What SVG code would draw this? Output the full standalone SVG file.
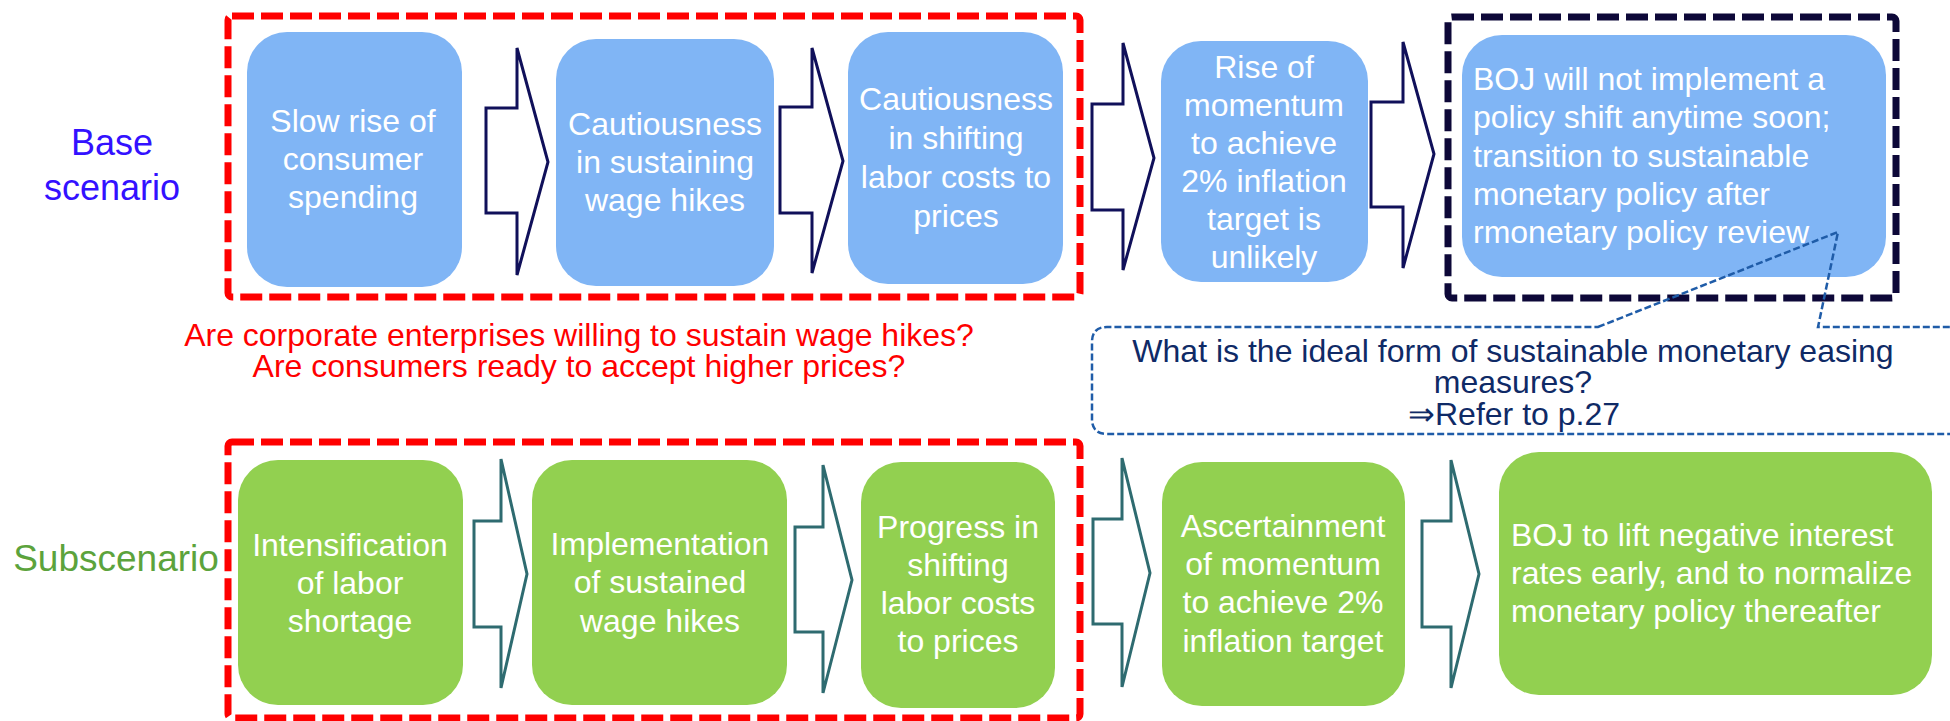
<svg xmlns="http://www.w3.org/2000/svg" width="1950" height="721" viewBox="0 0 1950 721">
<style>
.bn{fill:#80B5F5}
.gn{fill:#92D050}
.nt{font-family:"Liberation Sans",Arial,sans-serif;font-size:32px;fill:#FFFFFF;text-anchor:middle}
.lt{font-family:"Liberation Sans",Arial,sans-serif;font-size:32px;fill:#FFFFFF}
.arN{fill:#FFFFFF;stroke:#10105A;stroke-width:3;stroke-linejoin:miter}
.arT{fill:#FFFFFF;stroke:#2E6B70;stroke-width:3;stroke-linejoin:miter}
.red{fill:none;stroke:#FF0000;stroke-width:7;stroke-dasharray:22 7}
.navy{fill:none;stroke:#0D0838;stroke-width:7;stroke-dasharray:22 7}
.call{fill:none;stroke:#1F5CA8;stroke-width:2.5;stroke-dasharray:7 3}
.q{font-family:"Liberation Sans",Arial,sans-serif;font-size:32px;fill:#FF0000;text-anchor:middle}
.ct{font-family:"Liberation Sans",Arial,sans-serif;font-size:32px;fill:#0F2A66;text-anchor:middle}
</style>
<g id="labels">
<text font-family="Liberation Sans, Arial, sans-serif" font-size="36" fill="#3311FF" text-anchor="middle"><tspan x="112" y="155">Base</tspan><tspan x="112" y="200">scenario</tspan></text>
<text x="116" y="571" font-family="Liberation Sans, Arial, sans-serif" font-size="37" fill="#5CA33C" text-anchor="middle">Subscenario</text>
</g>
<g id="frames">
<rect class="red" x="228" y="16" width="852" height="281" rx="4"/>
<rect class="red" x="228" y="442" width="852" height="276" rx="4"/>
<rect class="navy" x="1448" y="17" width="448" height="281" rx="4"/>
</g>
<g id="connectors">
<path class="arN" d="M486,108 L517,108 L517,48 L548,162 L517,275 L517,213 L486,213 Z"/>
<path class="arN" d="M780,107 L812,107 L812,48 L843,161 L812,273 L812,213 L780,213 Z"/>
<path class="arN" d="M1092,104 L1123,104 L1123,43 L1154,158 L1123,270 L1123,210 L1092,210 Z"/>
<path class="arN" d="M1371,102 L1403,102 L1403,42 L1434,154 L1403,268 L1403,207 L1371,207 Z"/>
<path class="arT" d="M474,521 L501,521 L501,459 L527,574 L501,688 L501,627 L474,627 Z"/>
<path class="arT" d="M795,527 L823,527 L823,465 L852,580 L823,693 L823,632 L795,632 Z"/>
<path class="arT" d="M1093,519 L1122,519 L1122,458 L1150,573 L1122,687 L1122,624 L1093,624 Z"/>
<path class="arT" d="M1422,521 L1451,521 L1451,460 L1479,574 L1451,688 L1451,627 L1422,627 Z"/>
</g>
<g id="n1"><rect class="bn" x="247" y="32" width="215" height="255" rx="40"/>
<text class="nt"><tspan x="353" y="132">Slow rise of</tspan><tspan x="353" y="170">consumer</tspan><tspan x="353" y="208">spending</tspan></text></g>
<g id="n2"><rect class="bn" x="556" y="39" width="218" height="247" rx="40"/>
<text class="nt"><tspan x="665" y="135">Cautiousness</tspan><tspan x="665" y="173">in sustaining</tspan><tspan x="665" y="211">wage hikes</tspan></text></g>
<g id="n3"><rect class="bn" x="848" y="32" width="215" height="252" rx="40"/>
<text class="nt"><tspan x="956" y="110">Cautiousness</tspan><tspan x="956" y="149">in shifting</tspan><tspan x="956" y="188">labor costs to</tspan><tspan x="956" y="227">prices</tspan></text></g>
<g id="n4"><rect class="bn" x="1161" y="41" width="207" height="241" rx="40"/>
<text class="nt"><tspan x="1264" y="78">Rise of</tspan><tspan x="1264" y="116">momentum</tspan><tspan x="1264" y="154">to achieve</tspan><tspan x="1264" y="192">2% inflation</tspan><tspan x="1264" y="230">target is</tspan><tspan x="1264" y="268">unlikely</tspan></text></g>
<g id="n5"><rect class="bn" x="1462" y="35" width="424" height="242" rx="40"/>
<text class="lt"><tspan x="1473" y="90">BOJ will not implement a</tspan><tspan x="1473" y="128">policy shift anytime soon;</tspan><tspan x="1473" y="167">transition to sustainable</tspan><tspan x="1473" y="205">monetary policy after</tspan><tspan x="1473" y="243">rmonetary policy review</tspan></text></g>
<g id="b1"><rect class="gn" x="238" y="460" width="225" height="245" rx="40"/>
<text class="nt"><tspan x="350" y="556">Intensification</tspan><tspan x="350" y="594">of labor</tspan><tspan x="350" y="632">shortage</tspan></text></g>
<g id="b2"><rect class="gn" x="532" y="460" width="255" height="245" rx="40"/>
<text class="nt"><tspan x="660" y="555">Implementation</tspan><tspan x="660" y="593">of sustained</tspan><tspan x="660" y="632">wage hikes</tspan></text></g>
<g id="b3"><rect class="gn" x="861" y="462" width="194" height="246" rx="40"/>
<text class="nt"><tspan x="958" y="538">Progress in</tspan><tspan x="958" y="576">shifting</tspan><tspan x="958" y="614">labor costs</tspan><tspan x="958" y="652">to prices</tspan></text></g>
<g id="b4"><rect class="gn" x="1162" y="462" width="243" height="244" rx="40"/>
<text class="nt"><tspan x="1283" y="537">Ascertainment</tspan><tspan x="1283" y="575">of momentum</tspan><tspan x="1283" y="613">to achieve 2%</tspan><tspan x="1283" y="652">inflation target</tspan></text></g>
<g id="b5"><rect class="gn" x="1499" y="452" width="433" height="243" rx="40"/>
<text class="lt"><tspan x="1511" y="546">BOJ to lift negative interest</tspan><tspan x="1511" y="584">rates early, and to normalize</tspan><tspan x="1511" y="622">monetary policy thereafter</tspan></text></g>
<g id="question">
<text class="q"><tspan x="579" y="346">Are corporate enterprises willing to sustain wage hikes?</tspan><tspan x="579" y="377">Are consumers ready to accept higher prices?</tspan></text>
</g>
<g id="callout">
<path class="call" d="M1598,327 L1838,232 L1818,327 L1965,327 L1965,434 L1107,434 Q1092,434 1092,419 L1092,342 Q1092,327 1107,327 Z"/>
<text class="ct"><tspan x="1513" y="362">What is the ideal form of sustainable monetary easing</tspan><tspan x="1513" y="393">measures?</tspan><tspan x="1514" y="425">⇒Refer to p.27</tspan></text>
</g>
</svg>
